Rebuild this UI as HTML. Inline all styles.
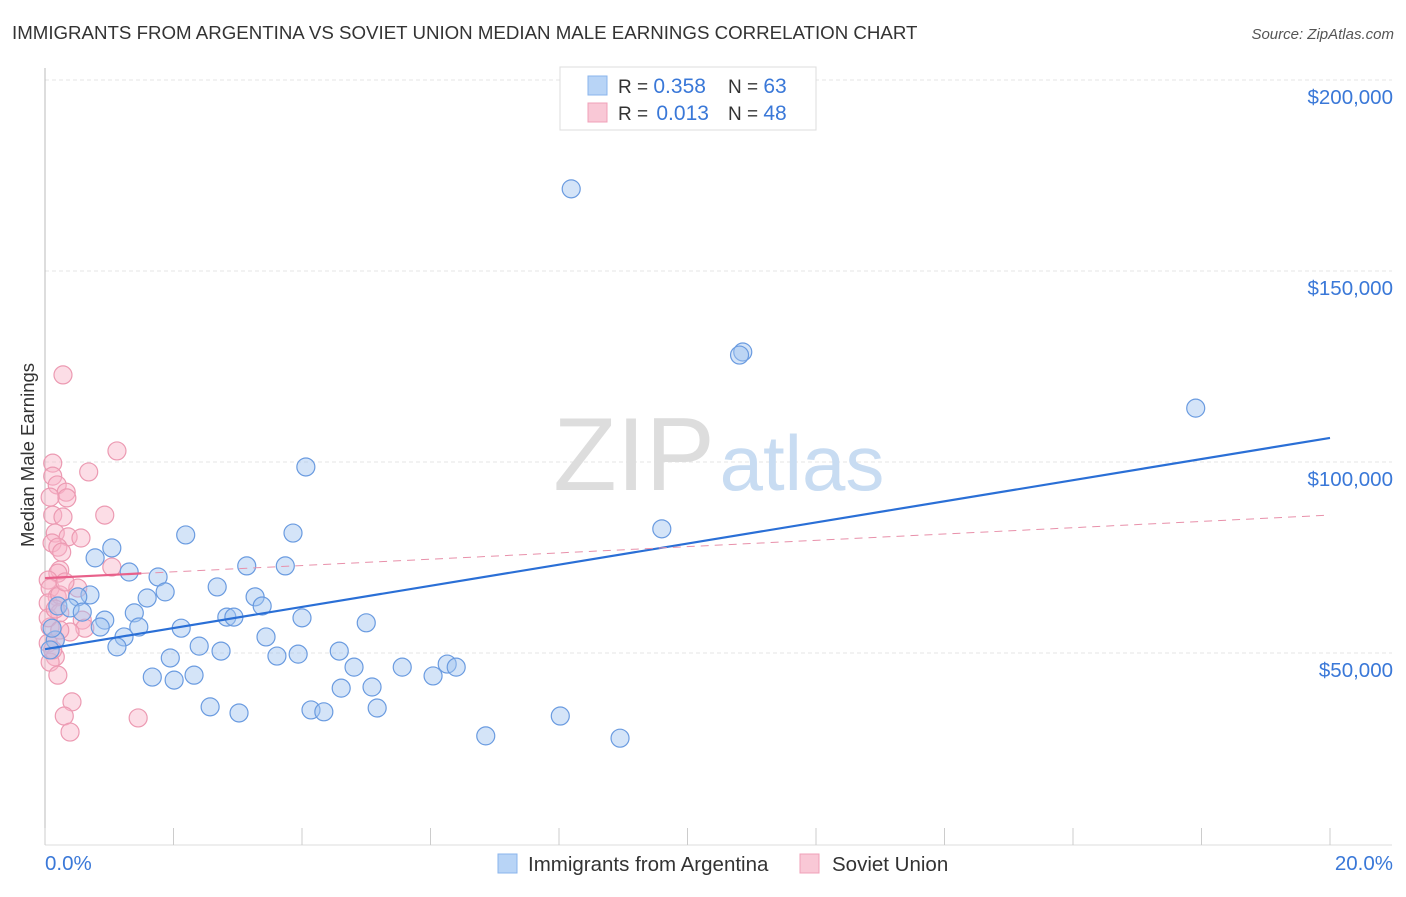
<!DOCTYPE html>
<html><head><meta charset="utf-8"><style>
body{margin:0;background:#fff;font-family:"Liberation Sans",sans-serif;}
svg text{font-family:"Liberation Sans",sans-serif;}
</style></head><body>
<svg id="chart" width="1406" height="892">
<text x="12" y="39" font-size="18.7" fill="#333">IMMIGRANTS FROM ARGENTINA VS SOVIET UNION MEDIAN MALE EARNINGS CORRELATION CHART</text>
<text x="1394" y="39" font-size="15" fill="#555" text-anchor="end" font-style="italic">Source: ZipAtlas.com</text>
<text x="34" y="455" font-size="18.5" fill="#333" text-anchor="middle" transform="rotate(-90 34 455)">Median Male Earnings</text>
<g id="grid"></g>
<g><text x="634" y="490" font-size="104" fill="#ddd" font-family="Liberation Serif" text-anchor="middle">ZIP</text><text x="802" y="490" font-size="78" fill="#c8dcf2" text-anchor="middle">atlas</text></g>
<line x1="45" y1="68" x2="45" y2="845" stroke="#bbb"/>
<line x1="45" y1="845" x2="1392" y2="845" stroke="#ddd"/>
<g id="ticks"></g>
<g id="pts"></g>
<g id="lines"></g>
<text x="45" y="870" font-size="20.5" fill="#3a78d8">0.0%</text>
<text x="1393" y="870" font-size="20.5" fill="#3a78d8" text-anchor="end">20.0%</text>
<g>
<rect x="560" y="67" width="256" height="63" fill="#fff" stroke="#ddd"/>
<rect x="588" y="76" width="19" height="19" fill="#b8d4f6" stroke="#8ab4ec"/>
<rect x="588" y="103" width="19" height="19" fill="#f9c8d6" stroke="#f0a0b8"/>
<text x="618" y="93" font-size="19" fill="#333">R = <tspan fill="#3a78d8" font-size="21">0.358</tspan><tspan x="728">N = </tspan><tspan fill="#3a78d8" font-size="21">63</tspan></text>
<text x="618" y="120" font-size="19" fill="#333">R = <tspan fill="#3a78d8" dx="3" font-size="21">0.013</tspan><tspan x="728">N = </tspan><tspan fill="#3a78d8" font-size="21">48</tspan></text>
</g>
<g>
<rect x="498" y="854" width="19" height="19" fill="#b8d4f6" stroke="#8ab4ec"/>
<text x="528" y="871" font-size="20.5" fill="#333">Immigrants from Argentina</text>
<rect x="800" y="854" width="19" height="19" fill="#f9c8d6" stroke="#f0a0b8"/>
<text x="832" y="871" font-size="20.5" fill="#333">Soviet Union</text>
</g>
</svg>
<script>
const yTicks=[50,100,150,200];
const yTickLabels=["$50,000","$100,000","$150,000","$200,000"];
const xTicks=[0,2,4,6,8,10,12,14,16,18,20];
const argX=[8.19,10.86,10.81,17.91,4.06,9.60,2.19,3.86,1.04,0.78,3.14,3.74,1.31,1.76,2.68,1.87,0.70,3.27,1.59,0.51,3.38,0.20,0.39,0.58,1.39,2.83,2.94,4.0,0.93,5.0,1.46,0.86,2.12,1.23,3.44,0.16,1.12,2.40,2.74,4.58,3.94,3.61,1.95,4.81,6.26,6.40,5.56,1.67,6.04,2.01,2.32,4.61,5.09,2.57,5.17,4.14,4.34,3.02,8.02,6.86,8.95,0.11,0.08];
const argY=[171.5,128.8,128.0,114.1,98.7,82.5,80.9,81.4,77.5,74.9,72.8,72.8,71.2,69.9,67.3,66.0,65.2,64.7,64.4,64.7,62.3,62.3,61.8,60.7,60.5,59.4,59.4,59.2,58.6,57.9,56.8,56.8,56.5,54.2,54.2,53.4,51.6,51.8,50.5,50.5,49.7,49.2,48.7,46.3,47.1,46.3,46.3,43.7,44.0,42.9,44.2,40.8,41.1,35.9,35.6,35.1,34.6,34.3,33.5,28.3,27.7,56.5,50.8];
const sovX=[0.28,1.12,0.12,0.68,0.12,0.19,0.33,0.34,0.08,0.93,0.12,0.28,0.16,0.36,0.56,0.11,0.20,0.26,1.04,0.23,0.20,0.05,0.08,0.51,0.19,0.05,0.23,0.58,0.62,0.39,0.08,0.16,0.05,0.16,0.08,0.20,0.42,0.30,1.45,0.39,0.12,0.23,0.05,0.31,0.16,0.23];
const sovY=[122.8,102.9,99.7,97.4,96.3,94.0,92.1,90.6,90.8,86.1,86.1,85.6,81.4,80.4,80.1,78.8,77.7,76.4,72.5,71.7,70.9,69.1,67.0,67.0,64.7,63.1,60.5,58.6,56.5,55.5,56.8,53.4,52.6,49.0,47.6,44.2,37.2,33.5,33.0,29.3,50.8,65.2,59.2,68.6,61.5,56.0];
const argTrend=[51.0,106.3];
const sovTrend=[69.6,86.1];
const sovSolidEnd=1.5;
const X=v=>45+v*64.25, Y=v=>844-v*3.82;
const NS="http://www.w3.org/2000/svg";
function mk(t,a,p){const e=document.createElementNS(NS,t);for(const k in a)e.setAttribute(k,a[k]);p.appendChild(e);return e;}
const grid=document.getElementById('grid'),svg=document.getElementById('chart');
yTicks.forEach((v,i)=>{
 const l=mk('line',{x1:45,x2:1392,y1:Y(v),y2:Y(v),stroke:'#e4e4e4','stroke-dasharray':'4,3'},grid);
 
 
 const t=mk('text',{x:1393,y:Y(v)+24,'font-size':20.5,fill:'#3a78d8','text-anchor':'end'},svg);
 t.textContent=yTickLabels[i];
 
 
});
const tk=document.getElementById('ticks');
xTicks.forEach(v=>{const l=mk('line',{x1:X(v),x2:X(v),y1:828,y2:845,stroke:'#ccc'},tk);
 
 });
const pts=document.getElementById('pts');
sovX.forEach((x,i)=>{const c=mk('circle',{cx:X(x),cy:Y(sovY[i]),r:9,fill:'rgba(248,180,200,0.45)',stroke:'#ec9ab2','stroke-width':1.2},pts);
 
 });
argX.forEach((x,i)=>{const c=mk('circle',{cx:X(x),cy:Y(argY[i]),r:9,fill:'rgba(160,196,240,0.45)',stroke:'#6a9be0','stroke-width':1.2},pts);
 
 });
const ln=document.getElementById('lines');
const sy=x=>sovTrend[0]+(sovTrend[1]-sovTrend[0])*x/20;
let a=mk('line',{x1:X(0),y1:Y(argTrend[0]),x2:X(20),y2:Y(argTrend[1]),stroke:'#2a6fd6','stroke-width':2.2},ln);


let b=mk('line',{x1:X(0),y1:Y(sy(0)),x2:X(sovSolidEnd),y2:Y(sy(sovSolidEnd)),stroke:'#e8608a','stroke-width':2.2},ln);


let c=mk('line',{x1:X(sovSolidEnd),y1:Y(sy(sovSolidEnd)),x2:X(20),y2:Y(sy(20)),stroke:'#e890aa','stroke-width':1,'stroke-dasharray':'8,6'},ln);


</script>
</body></html>
